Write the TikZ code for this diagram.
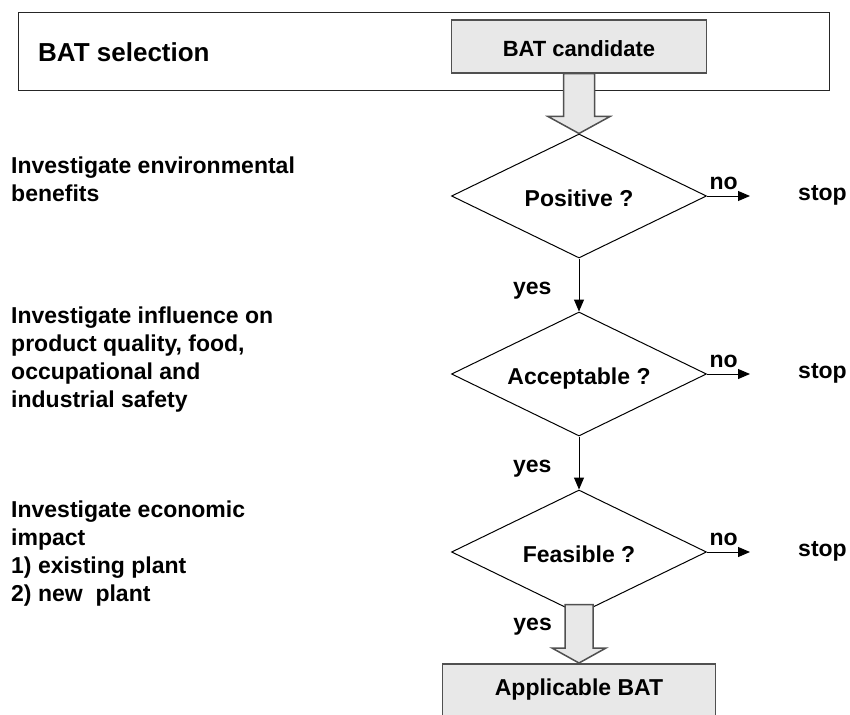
\documentclass[tikz,border=0pt]{standalone}
\usepackage{fontspec}
\setmainfont{Liberation Sans}
\definecolor{boxgrey}{RGB}{232,232,232}
\definecolor{edgegrey}{RGB}{80,80,80}
\usetikzlibrary{shapes.geometric,arrows.meta,positioning,calc}

\begin{document}
\begin{tikzpicture}[x=1pt, y=-1pt,
    lbl/.style={font=\fontsize{23}{28}\selectfont\bfseries, inner sep=0pt},
    panel/.style={draw=black!85, line width=1.3pt, inner sep=0pt},
    greybox/.style={draw=edgegrey, fill=boxgrey, line width=1.5pt, inner sep=0pt},
    decision/.style={diamond, aspect=2.06, draw, line width=1pt, inner sep=0pt, minimum width=255pt, minimum height=124pt, text height=20pt, text depth=0pt},
    flow/.style={-{Triangle[length=12pt,width=10pt]}, line width=1pt},
    hollow/.style={draw=edgegrey, fill=boxgrey, line width=1.5pt, line join=miter}]
    \useasboundingbox (0,0) rectangle (850,714);
    \clip (0,0) rectangle (850,714);

    % Selection frame
    \node[panel, anchor=north west, minimum width=811pt, minimum height=78pt] (frame) at (18,12) {};
    \node[lbl, font=\fontsize{26}{31}\selectfont\bfseries, anchor=base west] (title) at (38,61.5) {BAT selection};
    \node[greybox, lbl, font=\fontsize{22}{26}\selectfont\bfseries, minimum width=255pt, minimum height=53pt, text height=21pt, text depth=0pt] (cand) at (579,46.5) {BAT candidate};

    % Decisions
    \node[decision, lbl] (pos) at (579,196) {Positive ?};
    \node[decision, lbl, below=53pt of pos] (acc) {Acceptable ?};
    \node[decision, lbl, below=53pt of acc] (fea) {Feasible ?};

    % Result
    \node[greybox, lbl, anchor=north, minimum width=273pt, minimum height=54pt, text height=16.5pt, text depth=8pt] (appl) at (579,663) {Applicable BAT};

    % Hollow arrows
    \draw[hollow] ($(cand.south)+(-15.5,0)$) -- ($(pos.north)+(-15.5,-17)$) -- ($(pos.north)+(-31,-17)$) -- (pos.north)
        -- ($(pos.north)+(31,-17)$) -- ($(pos.north)+(15.5,-17)$) -- ($(cand.south)+(15.5,0)$) -- cycle;
    \draw[hollow] ($(fea.south)+(-14,-10)$) -- ($(appl.north)+(-14,-15)$) -- ($(appl.north)+(-27,-15)$) -- (appl.north)
        -- ($(appl.north)+(27,-15)$) -- ($(appl.north)+(14,-15)$) -- ($(fea.south)+(14,-10)$) -- cycle;

    % Yes branches
    \draw[flow] (pos.south) -- (acc.north) node[lbl, midway, anchor=base east, xshift=-27pt, yshift=-9.5pt] (yes1) {yes};
    \draw[flow] (acc.south) -- (fea.north) node[lbl, midway, anchor=base east, xshift=-27pt, yshift=-9.5pt] (yes2) {yes};
    \node[lbl, anchor=base east] (yes3) at ($(fea.south)+(-27,16)$) {yes};

    % No branches
    \foreach \d/\n in {pos/1, acc/2, fea/3} {
        \coordinate (nend\n) at ($(\d.east)+(43,0)$);
        \draw[flow] (\d.east) -- (nend\n) node[lbl, pos=0, anchor=base west, xshift=2pt, yshift=7pt] (no\n) {no};
        \node[lbl, anchor=base west] (stop\n) at ($(\d.east)+(91,4)$) {stop};
    }

    % Investigation steps
    \node[lbl, align=left, anchor=north west] (env) at (11,156.5) {Investigate environmental\\benefits};
    \node[lbl, align=left, anchor=north west] (qual) at (11,306.5) {Investigate influence on\\product quality, food,\\occupational and\\industrial safety};
    \node[lbl, align=left, anchor=north west] (econ) at (11,500.5) {Investigate economic\\impact\\1) existing plant\\2) new~ plant};
\end{tikzpicture}
\end{document}
